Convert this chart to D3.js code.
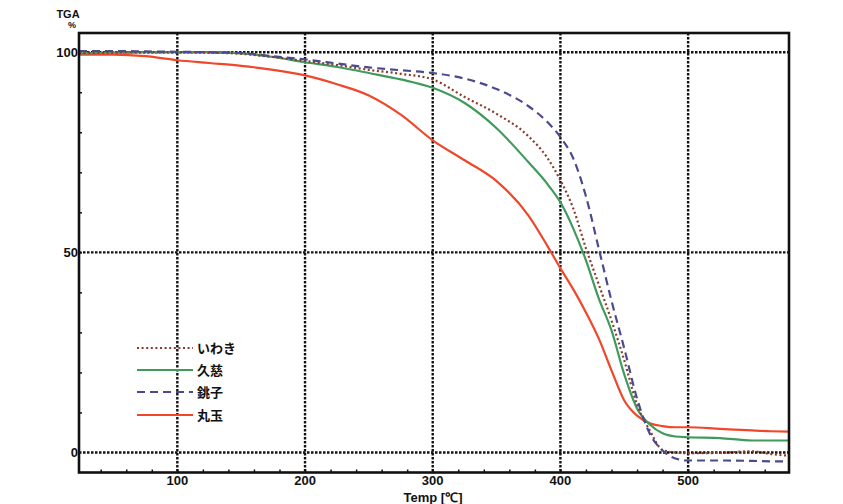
<!DOCTYPE html>
<html>
<head>
<meta charset="utf-8">
<script src="https://cdn.jsdelivr.net/npm/d3@7"></script>
<style>
  html, body { margin: 0; padding: 0; background: #ffffff; }
  svg { display: block; }
  .tick-lbl { font-family: "Liberation Sans Narrow", "Arial Narrow", "Liberation Sans", sans-serif; font-weight: bold; font-size: 13px; fill: #111; }
  .leg { font-family: "Noto Sans CJK JP", sans-serif; font-weight: bold; font-size: 13px; fill: #111; }
</style>
</head>
<body>
<script>
// ---- data ----
const temps = [23, 50, 75, 100, 125, 150, 175, 200, 225, 250, 275, 300, 325, 350, 375, 390, 400, 410, 420, 430, 440, 450, 460, 470, 480, 490, 500, 525, 550, 565, 579];
const iwaki  = [99.8, 99.9, 100, 100, 99.9, 99.6, 98.8, 97.8, 96.8, 95.6, 94.6, 93.2, 88.8, 84.6, 79, 73.5, 68, 61, 51, 42, 33, 23, 12, 5.5, 0.6, 0, -0.2, -0.1, 0.3, -0.4, -0.8];
const kuji   = [99.7, 99.9, 100, 100, 100, 99.7, 98.8, 97.5, 96.3, 94.8, 93.2, 91.1, 87.3, 81, 72.5, 67, 62.5, 56, 48, 38.5, 30.5, 19.5, 11, 7, 4.8, 4, 3.8, 3.6, 3.0, 3.0, 3.0];
const choshi = [100.3, 100.3, 100.2, 100.1, 100.0, 99.8, 99.0, 98.2, 97.2, 96.2, 95.5, 94.8, 93.4, 90.8, 86.5, 82.5, 78.8, 73.5, 64, 51, 37.9, 26, 13.5, 4.7, 0.5, -1.5, -2, -2, -2.1, -2.2, -2.2];
const marutama = [99.4, 99.4, 99.0, 98.0, 97.3, 96.6, 95.6, 94.2, 92.0, 89.2, 84.4, 78.0, 73.0, 67.8, 59.2, 51.5, 46, 40.8, 35, 28.5, 20.5, 13, 9.2, 7.3, 6.6, 6.3, 6.3, 5.9, 5.5, 5.3, 5.2];
const seriesNames = ["いわき", "久慈", "銚子", "丸玉"];
const xTicks = [100, 200, 300, 400, 500];
const yTicks = [0, 50, 100];
const xLabel = "Temp [℃]";
const yLabel = "TGA";
const yUnit = "%";

// ---- layout ----
const W = 843, H = 504;
const L = 79, R = 789, T = 33, B = 472.5;
const x = d3.scaleLinear().domain([23, 579]).range([L, R]);
const y = d3.scaleLinear().domain([-5, 104.8]).range([B, T]);

const svg = d3.select("body").append("svg").attr("width", W).attr("height", H);
svg.append("rect").attr("width", W).attr("height", H).attr("fill", "#ffffff");

const gridStyle = { stroke: "#111", width: 2.4, dash: "2.5,1.5" };

// grid lines
svg.append("g").selectAll("line").data(xTicks).join("line")
  .attr("x1", d => x(d)).attr("x2", d => x(d)).attr("y1", T).attr("y2", B)
  .attr("stroke", gridStyle.stroke).attr("stroke-width", gridStyle.width).attr("stroke-dasharray", gridStyle.dash);
svg.append("g").selectAll("line").data(yTicks).join("line")
  .attr("x1", L).attr("x2", R).attr("y1", d => y(d)).attr("y2", d => y(d))
  .attr("stroke", gridStyle.stroke).attr("stroke-width", gridStyle.width).attr("stroke-dasharray", gridStyle.dash);

// minor ticks via d3 axes (inward)
const xMinor = d3.range(40, 579, 20);
const yMinor = d3.range(10, 101, 10);
const xAxis = d3.axisTop(x).tickValues(xMinor).tickSize(3).tickFormat("");
const yAxis = d3.axisRight(y).tickValues(yMinor).tickSize(3).tickFormat("");
const gx = svg.append("g").attr("transform", `translate(0,${B})`).call(xAxis);
const gy = svg.append("g").attr("transform", `translate(${L},0)`).call(yAxis);
[gx, gy].forEach(g => { g.select(".domain").remove(); g.selectAll("line").attr("stroke", "#111").attr("stroke-width", 1.5); });

// tick labels
svg.append("g").selectAll("text").data(xTicks).join("text")
  .attr("class", "tick-lbl").attr("x", d => x(d)).attr("y", 485)
  .attr("text-anchor", "middle").text(d => d);
svg.append("g").selectAll("text").data(yTicks).join("text")
  .attr("class", "tick-lbl").attr("x", L - 1).attr("y", d => y(d) + 4.5)
  .attr("text-anchor", "end").text(d => d);

svg.append("text").attr("class", "tick-lbl").attr("x", 433).attr("y", 502)
  .attr("text-anchor", "middle").text(xLabel);
svg.append("text").attr("class", "tick-lbl").attr("x", 68).attr("y", 18)
  .attr("text-anchor", "middle").style("font-size", "11px").text(yLabel);
svg.append("text").attr("class", "tick-lbl").attr("x", 72).attr("y", 28)
  .attr("text-anchor", "middle").style("font-size", "9px").text(yUnit);

// series
const styles = [
  { color: "#8a3b2c", dash: "2,2.6", width: 2.2 },
  { color: "#3f9a5c", dash: null, width: 2.2 },
  { color: "#4c4a8e", dash: "8,5", width: 2.2 },
  { color: "#f0472b", dash: null, width: 2.2 }
];
const seriesData = [iwaki, kuji, choshi, marutama];
const line = d3.line().x(d => x(d[0])).y(d => y(d[1])).curve(d3.curveMonotoneX);

svg.append("defs").append("clipPath").attr("id", "clip")
  .append("rect").attr("x", L).attr("y", T).attr("width", R - L).attr("height", B - T);

const drawOrder = [3, 1, 0, 2];
const gl = svg.append("g").attr("clip-path", "url(#clip)");
drawOrder.forEach(i => {
  const pts = temps.map((t, k) => [t, seriesData[i][k]]);
  gl.append("path").datum(pts).attr("d", line)
    .attr("fill", "none").attr("stroke", styles[i].color)
    .attr("stroke-width", styles[i].width)
    .attr("stroke-dasharray", styles[i].dash)
    .attr("stroke-linejoin", "round");
});

// frame
svg.append("rect").attr("x", L).attr("y", T).attr("width", R - L).attr("height", B - T)
  .attr("fill", "none").attr("stroke", "#111").attr("stroke-width", 2.6);

// legend
const legY = [348, 370, 392, 415];
const lg = svg.append("g");
seriesNames.forEach((name, i) => {
  lg.append("line").attr("x1", 137).attr("x2", 193).attr("y1", legY[i]).attr("y2", legY[i])
    .attr("stroke", styles[i].color).attr("stroke-width", styles[i].width)
    .attr("stroke-dasharray", styles[i].dash);
  lg.append("text").attr("class", "leg").attr("x", 197).attr("y", legY[i] + 4.5).text(name);
});
</script>
</body>
</html>
